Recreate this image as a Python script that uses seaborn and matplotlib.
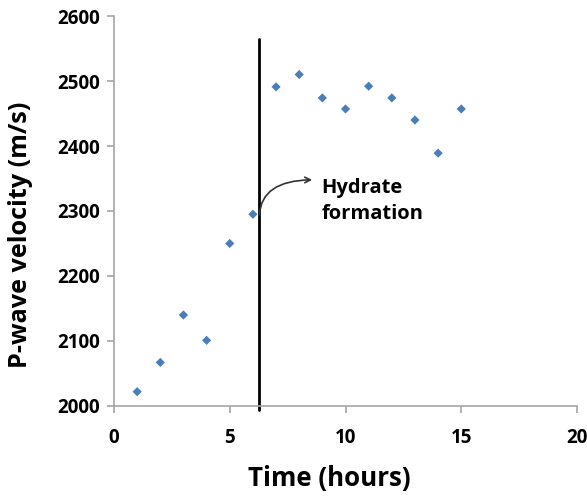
import pandas as pd
import matplotlib.pyplot as plt
import seaborn as sns

# P-wave velocity readings
hours = [1, 2, 3, 4, 5, 6, 7, 8, 9, 10, 11, 12, 13, 14, 15]
velocity = [2022, 2067, 2140, 2101, 2250, 2295, 2491, 2510, 2474, 2457, 2492, 2474, 2440, 2389, 2457]
hydrate_time = 6.28

df = pd.DataFrame({'hours': hours, 'velocity': velocity})

sns.set_style('white')
plt.rcParams['font.family'] = ['Open Sans', 'DejaVu Sans']

fig = plt.figure(figsize=(5.87, 4.96), dpi=100)
ax = fig.add_axes([0.1942, 0.1815, 0.7888, 0.7862])

sns.scatterplot(data=df, x='hours', y='velocity', marker='D', s=22,
                color='#4A7EBB', edgecolor='none', ax=ax)

# hydrate formation marker line
ax.plot([hydrate_time, hydrate_time], [1994, 2565], color='black', lw=2, clip_on=False)
ax.annotate('', xy=(8.68, 2348), xytext=(hydrate_time, 2290),
            arrowprops=dict(arrowstyle='->', color='#333333', lw=1.2,
                            connectionstyle='angle3,angleA=90,angleB=0'))
ax.text(8.95, 2316, 'Hydrate\nformation', fontsize=14.5, fontweight='bold',
        color='black', va='center', ha='left', linespacing=1.4)

ax.set_xlim(0, 20)
ax.set_ylim(2000, 2600)
ax.set_xticks([0, 5, 10, 15, 20])
ax.set_yticks([2000, 2100, 2200, 2300, 2400, 2500, 2600])

for side in ['top', 'right']:
    ax.spines[side].set_visible(False)
for side in ['left', 'bottom']:
    ax.spines[side].set_color('#A6A6A6')
    ax.spines[side].set_linewidth(1.2)
ax.tick_params(axis='both', direction='out', length=5, width=1.2, color='#A6A6A6',
               labelsize=13.5, labelcolor='black', pad=5, left=True, bottom=True)
for lbl in ax.get_xticklabels() + ax.get_yticklabels():
    lbl.set_fontweight('bold')
ax.tick_params(axis='x', pad=11)

ax.set_xlabel('Time (hours)', fontsize=18.6, fontweight='bold', color='black')
ax.set_ylabel('P-wave velocity (m/s)', fontsize=18.2, fontweight='bold', color='black')
ax.xaxis.set_label_coords(0.464, -0.152)
ax.yaxis.set_label_coords(-0.175, 0.438)

fig.savefig('out.png', dpi=100)
